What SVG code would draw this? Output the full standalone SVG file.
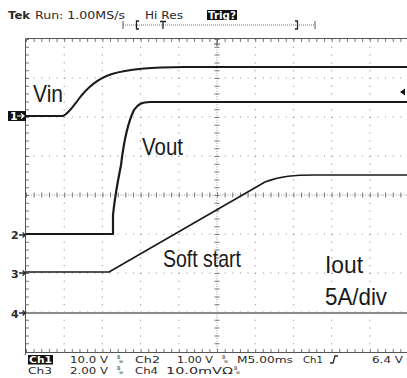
<svg xmlns="http://www.w3.org/2000/svg" width="407" height="378" viewBox="0 0 407 378">
<style>
.hdot{stroke:#8a8a8a;stroke-width:1.1;stroke-dasharray:1 6.64;fill:none}
.vdot{stroke:#8a8a8a;stroke-width:1.1;stroke-dasharray:1 6.8;fill:none}
.axis{stroke:#555;stroke-width:1;fill:none}
.tr{stroke:#1a1a1a;fill:none;stroke-linejoin:round}
.lbl{font-family:"Liberation Sans","Open Sans",sans-serif;font-size:24px;fill:#1a1a1a}
.st{font-family:"DejaVu Sans","Liberation Sans",sans-serif;font-size:11px;fill:#2a2a2a}
.sb{font-family:"DejaVu Sans","Liberation Sans",sans-serif;font-size:9.5px;fill:#2a2a2a}
.mk{font-family:"DejaVu Sans",sans-serif;font-size:11px;font-weight:bold;fill:#2a2a2a}
.bw{font-family:"DejaVu Sans",sans-serif;font-size:5px;fill:#444}
</style>
<rect width="407" height="378" fill="#ffffff"/>

<g id="header">
<text class="st" x="8" y="19" font-weight="bold" textLength="22" lengthAdjust="spacingAndGlyphs">Tek</text>
<text class="st" x="35" y="19" textLength="90" lengthAdjust="spacingAndGlyphs">Run: 1.00MS/s</text>
<text class="st" x="145" y="19" textLength="38" lengthAdjust="spacingAndGlyphs">Hi Res</text>
<rect x="207" y="10" width="30" height="10" fill="#111"/>
<text class="st" x="208" y="19" style="fill:#fff" font-weight="bold" textLength="28" lengthAdjust="spacingAndGlyphs">Trig?</text>
<path d="M123,25 L315,25" stroke="#777" stroke-width="1" stroke-dasharray="1 1"/>
<path d="M123,21 V29 M315,21 V29" stroke="#555" stroke-width="1"/>
<path d="M139,21 H136.5 V29 H139 M160,21.5 H166 M163,21.5 V29 M295,21 H297.5 V29 H295" stroke="#222" stroke-width="1.3" fill="none"/>
</g>

<g id="graticule">
<path class="hdot" d="M26,78 H407 M26,117 H407 M26,156 H407 M26,234 H407 M26,273 H407 M26,312 H407"/>
<path class="vdot" d="M64.2,39 V351 M102.4,39 V351 M140.6,39 V351 M178.8,39 V351 M255.2,39 V351 M293.4,39 V351 M331.6,39 V351 M369.8,39 V351"/>
<path d="M217,39 V351" stroke="#999" stroke-width="1" stroke-dasharray="1 1.6"/>
<path d="M26,195 H407" stroke="#999" stroke-width="1" stroke-dasharray="1 1.55"/>
<path d="M217,39 V351" stroke="#777" stroke-width="5" stroke-dasharray="1 6.8"/>
<path d="M26,195 H407" stroke="#777" stroke-width="5" stroke-dasharray="1 6.64"/>
<path class="axis" d="M26,38.5 H407 M25.5,38.5 V355 M26,352.5 H407"/>
<path d="M26,40.5 H407" stroke="#777" stroke-width="3" stroke-dasharray="1 6.64"/>
<path d="M26,350.5 H407" stroke="#777" stroke-width="3" stroke-dasharray="1 6.64"/>
<path d="M27.5,39 V351" stroke="#777" stroke-width="3" stroke-dasharray="1 6.8"/>
<path d="M217,40 V46 M214,44 H220" stroke="#555" stroke-width="1"/>
</g>

<g id="connectors">
<path id="ch4" d="M26,313 H407" stroke="#8c8c8c" stroke-width="1.8" fill="none"/>
<path id="ch3" class="tr" stroke-width="1.6" d="M26,272 L109,272 L265,182 C280,176 295,175 315,175 L407,175"/>
<path id="ch2" class="tr" stroke-width="2.2" d="M26,234 L113,234 L113,215 C115,195 118,180 121,165 C124,140 128,122 134,110 C138,104 142,102 150,102 L407,102"/>
<path id="ch1" class="tr" stroke-width="2" d="M26,116 L63,116 C68,114 72,108 78,100 C86,89 96,79 112,74 C128,69 150,67 185,67 L407,67"/>
<path d="M400,92 L405,88.5 L405,95.5 Z" fill="#111"/>
</g>

<g id="markers">
<rect x="8" y="111" width="18" height="10" fill="#111"/>
<text x="10" y="120" class="mk" style="fill:#fff" font-size="10">1</text>
<path d="M17,116 H23 M21,113.5 L24,116 L21,118.5" stroke="#fff" stroke-width="1.2" fill="none"/>
<text x="11" y="239" class="mk">2</text>
<path d="M19,235 H25 M22.5,232.5 L25.5,235 L22.5,237.5" stroke="#2a2a2a" stroke-width="1.3" fill="none"/>
<text x="11" y="278" class="mk">3</text>
<path d="M19,273 H25 M22.5,270.5 L25.5,273 L22.5,275.5" stroke="#2a2a2a" stroke-width="1.3" fill="none"/>
<text x="11" y="318" class="mk">4</text>
<path d="M19,313 H25 M22.5,310.5 L25.5,313 L22.5,315.5" stroke="#2a2a2a" stroke-width="1.3" fill="none"/>
</g>

<g id="labels">
<text class="lbl" x="33" y="102" font-size="25" textLength="30" lengthAdjust="spacingAndGlyphs">Vin</text>
<text class="lbl" x="142" y="155" textLength="41" lengthAdjust="spacingAndGlyphs">Vout</text>
<text class="lbl" x="163" y="267" textLength="78" lengthAdjust="spacingAndGlyphs">Soft start</text>
<text class="lbl" x="325" y="273" textLength="38" lengthAdjust="spacingAndGlyphs">Iout</text>
<text class="lbl" x="325" y="305" textLength="62" lengthAdjust="spacingAndGlyphs">5A/div</text>
</g>

<g id="status">
<rect x="28" y="355" width="25" height="9.5" fill="#111"/>
<text class="sb" x="29" y="363" style="fill:#fff" font-weight="bold" textLength="23" lengthAdjust="spacingAndGlyphs">Ch1</text>
<text class="sb" x="70" y="363" textLength="38" lengthAdjust="spacingAndGlyphs">10.0 V</text>
<text class="bw" x="117" y="359">B</text><text class="bw" x="119" y="363">w</text>
<text class="sb" x="135" y="363" textLength="25" lengthAdjust="spacingAndGlyphs">Ch2</text>
<text class="sb" x="177" y="363" textLength="36" lengthAdjust="spacingAndGlyphs">1.00 V</text>
<text class="bw" x="222" y="359">B</text><text class="bw" x="224" y="363">w</text>
<text class="sb" x="237" y="363" textLength="56" lengthAdjust="spacingAndGlyphs">M5.00ms</text>
<text class="sb" x="303" y="363" textLength="20" lengthAdjust="spacingAndGlyphs">Ch1</text>
<path d="M330,363 L333,363 L335,356 L338,356" stroke="#2a2a2a" stroke-width="1.3" fill="none"/>
<text class="sb" x="372" y="363" textLength="31" lengthAdjust="spacingAndGlyphs">6.4 V</text>
<text class="sb" x="28" y="374" textLength="24" lengthAdjust="spacingAndGlyphs">Ch3</text>
<text class="sb" x="70" y="374" textLength="38" lengthAdjust="spacingAndGlyphs">2.00 V</text>
<text class="bw" x="117" y="370">B</text><text class="bw" x="119" y="374">w</text>
<text class="sb" x="135" y="374" textLength="23" lengthAdjust="spacingAndGlyphs">Ch4</text>
<text class="sb" x="166" y="374" textLength="67" lengthAdjust="spacingAndGlyphs">10.0mVΩ</text>
<text class="bw" x="234" y="370">B</text><text class="bw" x="236" y="374">w</text>
</g>
</svg>
